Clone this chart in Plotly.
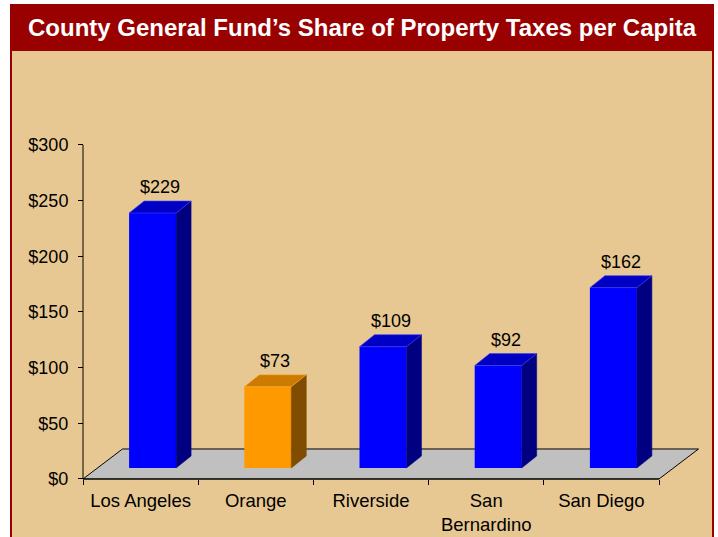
import plotly.graph_objects as go

# ---------------- data ----------------
counties = ["Los Angeles", "Orange", "Riverside", "San Bernardino", "San Diego"]
tick_labels = ["Los Angeles", "Orange", "Riverside", "San<br>Bernardino", "San Diego"]
per_capita = [229, 73, 109, 92, 162]
y_ticks = [0, 50, 100, 150, 200, 250, 300]
y_tick_labels = ["$0", "$50", "$100", "$150", "$200", "$250", "$300"]
highlight = "Orange"
title_text = "County General Fund\u2019s Share of Property Taxes per Capita"

# ---------------- layout geometry (pixels) ----------------
W, H = 718, 537
X0_PX, X1_PX = 83, 659      # category axis edges
Y0_PX, Y300_PX = 479, 145   # value axis $0 and $300
cat_px = (X1_PX - X0_PX) / len(counties)
unit_px = (Y0_PX - Y300_PX) / 300.0

XR = [-0.6, 4.9]
YR = [-10, 310]
x_dom = [(X0_PX + (XR[0] + 0.5) * cat_px) / W, (X0_PX + (XR[1] + 0.5) * cat_px) / W]
y_dom = [1 - (Y0_PX - YR[0] * unit_px) / H, 1 - (Y0_PX - YR[1] * unit_px) / H]


def dx(p):
    return p / cat_px


def dy(p):
    return p / unit_px


FLOOR_DX, FLOOR_DY = dx(39.5), dy(30)
BAR_W = dx(47)
BAR_SHIFT = dx(12)
BAR_BASE = dy(11)
BAR_DX, BAR_DY = dx(15), dy(12)
LABEL_GAP = dy(14)

TAN = "#E8C892"
RED = "#990000"
FONT = "Liberation Sans, Arial, sans-serif"

blue = dict(front="#0000FF", top="#0000C4", side="#000080", edge="#4040FF")
orange = dict(front="#FF9900", top="#CC7A00", side="#7F4C00", edge="#FFB040")
pal = [orange if c == highlight else blue for c in counties]

fig = go.Figure()

# front faces
xs = [i + BAR_SHIFT for i in range(len(counties))]
fig.add_trace(go.Bar(
    x=xs, y=per_capita, base=BAR_BASE, width=BAR_W,
    marker=dict(color=[p["front"] for p in pal], line=dict(width=0)),
    hoverinfo="skip", showlegend=False,
))

# top and side faces
for i, (v, p) in enumerate(zip(per_capita, pal)):
    xl = xs[i] - BAR_W / 2
    xr = xs[i] + BAR_W / 2
    top = BAR_BASE + v
    fig.add_trace(go.Scatter(
        x=[xr, xr, xr + BAR_DX, xr + BAR_DX, xr],
        y=[BAR_BASE, top, top + BAR_DY, BAR_BASE + BAR_DY, BAR_BASE],
        fill="toself", fillcolor=p["side"], mode="lines",
        line=dict(color=p["side"], width=0.5),
        hoverinfo="skip", showlegend=False,
    ))
    fig.add_trace(go.Scatter(
        x=[xl, xr, xr + BAR_DX, xl + BAR_DX, xl],
        y=[top, top, top + BAR_DY, top + BAR_DY, top],
        fill="toself", fillcolor=p["top"], mode="lines",
        line=dict(color=p["edge"], width=0.6),
        hoverinfo="skip", showlegend=False,
    ))
    fig.add_annotation(
        x=xs[i] + BAR_DX / 2, y=top + BAR_DY + LABEL_GAP,
        text=f"${v}", showarrow=False, yanchor="middle", xanchor="center",
        font=dict(family=FONT, size=18, color="black"),
    )

n = len(counties)
shapes = [
    # page panel
    dict(type="rect", xref="paper", yref="paper", x0=10 / W, x1=714 / W, y0=0, y1=1 - 4 / H,
         fillcolor=TAN, line=dict(width=0), layer="below"),
    dict(type="rect", xref="paper", yref="paper", x0=10 / W, x1=714 / W, y0=1 - 51 / H, y1=1 - 4 / H,
         fillcolor=RED, line=dict(width=0), layer="below"),
    dict(type="rect", xref="paper", yref="paper", x0=10 / W, x1=12 / W, y0=0, y1=1 - 4 / H,
         fillcolor=RED, line=dict(width=0), layer="below"),
    dict(type="rect", xref="paper", yref="paper", x0=712 / W, x1=714 / W, y0=0, y1=1 - 4 / H,
         fillcolor=RED, line=dict(width=0), layer="below"),
    # floor
    dict(type="path", xref="x", yref="y",
         path=f"M {-0.5},0 L {n - 0.5},0 L {n - 0.5 + FLOOR_DX},{FLOOR_DY} L {-0.5 + FLOOR_DX},{FLOOR_DY} Z",
         fillcolor="#C0C0C0", line=dict(color="black", width=1), layer="below"),
    # axis lines
    dict(type="line", xref="x", yref="y", x0=-0.5, x1=n - 0.5, y0=0, y1=0,
         line=dict(color="black", width=1), layer="above"),
    dict(type="line", xref="x", yref="y", x0=-0.5, x1=-0.5, y0=0, y1=y_ticks[-1],
         line=dict(color="black", width=1), layer="above"),
]

fig.add_annotation(
    xref="paper", yref="paper", x=362 / W, y=1 - 28 / H,
    text=f"<b>{title_text}</b>", showarrow=False, xanchor="center", yanchor="middle",
    font=dict(family=FONT, size=24, color="white"),
)

fig.update_layout(
    width=W, height=H,
    margin=dict(l=0, r=0, t=0, b=0, pad=0),
    paper_bgcolor="white", plot_bgcolor="rgba(0,0,0,0)",
    shapes=shapes, showlegend=False,
    font=dict(family=FONT, size=18, color="black"),
    xaxis=dict(
        domain=x_dom, range=XR, anchor="free", position=1 - Y0_PX / H,
        tickmode="array", tickvals=list(range(n)), ticktext=tick_labels, ticks="",
        showgrid=False, zeroline=False, showline=False, automargin=False,
        tickfont=dict(family=FONT, size=18.5, color="black"), tickangle=0,
        ticklabelstandoff=8,
        minor=dict(tickvals=[i - 0.5 for i in range(n + 1)], ticks="outside", ticklen=5,
                   tickcolor="black", tickwidth=1, showgrid=False),
        fixedrange=True,
    ),
    yaxis=dict(
        domain=y_dom, range=YR, anchor="free", position=X0_PX / W,
        tickmode="array", tickvals=y_ticks, ticktext=y_tick_labels,
        ticks="outside", ticklen=5, tickcolor="black", tickwidth=1,
        showgrid=False, zeroline=False, showline=False, automargin=False,
        tickfont=dict(family=FONT, size=18, color="black"),
        ticklabelstandoff=6, fixedrange=True,
    ),
)

fig.write_html("out.html", config={"displayModeBar": False, "staticPlot": True},
               post_script="document.body.style.margin='0';")
